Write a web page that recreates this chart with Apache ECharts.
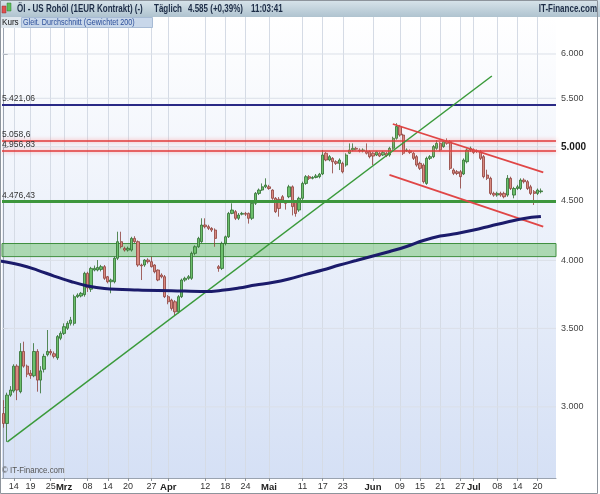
<!DOCTYPE html>
<html><head><meta charset="utf-8">
<script src="https://cdn.jsdelivr.net/npm/echarts@6/dist/echarts.min.js"></script>
<style>html,body{margin:0;padding:0;background:#fff}#c{width:600px;height:494px}</style>
</head><body><div id="c"></div>
<script>
// ---------- data ----------
const startDate = [2009, 1, 11];   // 11 Feb 2009 (first bar)
const dayCount = 165;              // categories on the axis (last bars empty)
// [open, close, low, high]
const ohlc = [
[2961,2904,2880,3040],[2904,3070,2801,3085],[3070,3101,3060,3125],[3095,3250,3085,3262],[3250,3101,3040,3262],
[3091,3345,3081,3400],[3345,3250,3240,3410],[3250,3199,3180,3260],[3205,3190,3170,3225],[3189,3345,3180,3400],
[3345,3162,3091,3360],[3162,3220,3081,3250],[3230,3313,3210,3330],[3324,3345,3313,3489],[3345,3335,3320,3360],
[3330,3313,3300,3345],[3303,3444,3290,3455],[3433,3466,3420,3480],[3466,3512,3455,3535],[3501,3535,3489,3550],
[3535,3558,3520,3580],[3535,3725,3520,3740],[3725,3737,3715,3750],[3730,3750,3720,3760],[3740,3900,3725,3912],
[3900,3790,3760,3912],[3780,3938,3760,3950],[3925,3938,3915,3960],[3925,3945,3915,4003],[3930,3951,3915,3965],
[3951,3862,3850,3964],[3874,3836,3824,3880],[3836,3849,3750,3860],[3836,4017,3824,4030],[4017,4150,4003,4232],
[4150,4110,4096,4232],[4096,4082,4070,4110],[4082,4096,4070,4110],[4082,4177,4070,4190],[4177,4150,4140,4195],
[4150,3964,3950,4160],[3964,3958,3849,3975],[3964,4003,3950,4010],[4003,3990,3975,4017],[3990,3951,3945,4030],
[3964,3912,3900,3970],[3925,3849,3840,3930],[3887,3874,3862,3900],[3874,3725,3715,3887],[3725,3688,3670,3737],
[3700,3640,3625,3710],[3688,3616,3590,3700],[3616,3725,3605,3737],[3725,3849,3715,3860],[3849,3862,3836,3874],
[3862,3874,3850,3887],[3862,4056,3850,4070],[4056,4109,4040,4120],[4109,4177,4100,4190],[4150,4288,4140,4345],
[4288,4274,4260,4345],[4274,4260,4246,4290],[4260,4246,4230,4270],[4246,4177,4109,4260],[3951,3938,3912,3964],
[3938,4136,3925,4150],[4136,4190,4120,4200],[4190,4387,4180,4400],[4387,4416,4380,4475],[4402,4345,4330,4416],
[4345,4373,4330,4390],[4380,4387,4370,4400],[4387,4380,4365,4400],[4387,4345,4300,4395],[4345,4475,4330,4490],
[4475,4563,4460,4575],[4563,4593,4548,4607],[4593,4622,4585,4653],[4622,4638,4610,4700],[4622,4607,4595,4640],
[4593,4519,4505,4600],[4519,4402,4390,4530],[4510,4430,4359,4530],[4533,4504,4490,4548],[4490,4475,4420,4504],
[4533,4622,4520,4640],[4622,4446,4370,4635],[4490,4387,4359,4504],[4416,4519,4400,4533],[4519,4653,4504,4669],
[4653,4715,4640,4730],[4715,4700,4684,4730],[4700,4708,4690,4720],[4708,4722,4700,4740],[4715,4738,4700,4750],
[4740,4920,4730,4969],[4937,4872,4860,4950],[4872,4904,4860,4920],[4888,4856,4746,4900],[4856,4840,4825,4870],
[4840,4872,4777,4888],[4840,4761,4746,4856],[4824,4920,4808,4937],[4937,4969,4930,5034],[4969,4985,4955,5034],
[4985,4977,4965,5000],[4969,4960,4945,4985],[4960,4969,4945,4985],[4953,4937,4925,5034],[4953,4904,4888,4965],
[4937,4910,4824,4950],[4920,4950,4910,4960],[4937,4910,4900,4950],[4920,4945,4910,4960],[4937,4915,4900,4950],
[4920,4985,4904,5000],[4985,5084,4970,5100],[5084,5204,5070,5237],[5204,5117,5100,5220],[5117,4937,4920,5130],
[4960,4969,4950,4985],[4960,4945,4930,4975],[4937,4888,4872,4950],[4904,4824,4808,4920],[4840,4793,4777,4856],
[4824,4669,4653,4840],[4653,4888,4640,4904],[4888,4904,4872,4920],[4904,5002,4890,5018],[4985,5034,4970,5067],
[5034,4969,4955,5050],[5002,5051,4990,5067],[5051,5034,5020,5084],[5051,4793,4777,5067],[4777,4746,4730,4793],
[4761,4745,4730,4777],[4761,4715,4607,4777],[4740,4872,4730,4888],[4856,4969,4840,4985],[4969,4985,4950,5002],
[4969,4945,4930,4985],[4960,4953,4940,4975],[4953,4888,4872,4969],[4904,4715,4700,4920],[4730,4700,4684,4780],
[4700,4563,4548,4715],[4563,4548,4533,4578],[4548,4563,4533,4578],[4563,4548,4533,4578],[4563,4533,4519,4578],
[4548,4700,4533,4730],[4700,4607,4593,4715],[4548,4607,4519,4622],[4607,4622,4593,4640],[4607,4684,4593,4700],
[4684,4669,4653,4700],[4669,4607,4593,4684],[4622,4563,4548,4640],[4578,4563,4460,4593],[4563,4593,4548,4607],
[4578,4585,4563,4607]
];
// 200-day weighted moving average (bar position, value)
const maPos = [-1.1,5,10,15,20,25,30,40,50,60,65,70,75,80,85,90,95,100,105,110,115,120,125,130,135,140,145,150,155,160];
const maVal = [3995,3964,3925,3879,3838,3804,3785,3774,3769,3763,3772,3789,3811,3830,3857,3892,3925,3964,3999,4035,4071,4111,4160,4196,4217,4246,4280,4314,4344,4360];
// drawn lines: [bar position, price]
const trendUp = [[1.1, 2801], [145.4, 5746]];
const channelTop = [[115.9, 5229], [160.7, 4756]];
const channelBottom = [[114.9, 4731], [160.7, 4274]];
const levelValues = [5421.06, 5058.6, 4956.83, 4476.43];
const levelTexts = ['5.421,06', '5.058,6', '4.956,83', '4.476,43'];
const supportZone = [4030, 4135];
const lastPrice = 4585, lastPriceText = '4.585';
const maLast = 4359.6, maLastText = '4.359,6';
const yTicks = [3000, 3500, 4000, 4500, 5000, 5500, 6000];
const yRange = [2609, 6452];
const xTickDates = ['2009-02-14','2009-02-19','2009-02-25','2009-03-01','2009-03-08','2009-03-14','2009-03-20','2009-03-27','2009-04-01','2009-04-12','2009-04-18','2009-04-24','2009-05-01','2009-05-11','2009-05-17','2009-05-23','2009-06-01','2009-06-09','2009-06-15','2009-06-21','2009-06-27','2009-07-01','2009-07-08','2009-07-14','2009-07-20'];
const xTickTexts = ['14','19','25','Mrz','08','14','20','27','Apr','12','18','24','Mai','11','17','23','Jun','09','15','21','27','Jul','08','14','20'];
const monthNames = ['Mrz','Apr','Mai','Jun','Jul'];

// ---------- build ----------
const cats = [];
for (let i = 0; i < dayCount; i++) {
  const d = new Date(Date.UTC(startDate[0], startDate[1], startDate[2] + i));
  cats.push(d.toISOString().slice(0, 10));
}
const tickMap = {};
xTickDates.forEach((d, k) => tickMap[d] = xTickTexts[k]);
const isTick = (idx, val) => tickMap[val] !== undefined;
const L = Math.log;
const de = n => String(n).replace(/\B(?=(\d{3})+(?!\d))/g, '.');
const font = '"Liberation Sans", Arial, sans-serif';

// horizontal grid lines across the plot at each price tick (broken between ticks)
const gridLineData = [];
yTicks.forEach(v => { gridLineData.push([-0.5, L(v)], [dayCount - 0.5, L(v)], ['-', '-']); });

const levelStyles = [
  {color: '#2a2a86', width: 2, type: 'solid'},
  {color: '#e03a3a', width: 1.6, type: 'solid', shadowColor: 'rgba(255,140,140,0.9)', shadowBlur: 4},
  {color: '#e03a3a', width: 1.6, type: 'solid', shadowColor: 'rgba(255,140,140,0.9)', shadowBlur: 4},
  {color: '#3d963d', width: 3, type: 'solid'}
];

const chart = echarts.init(document.getElementById('c'));
const hdrText = (txt, x, opts) => Object.assign({
  type: 'text', x: x, y: 9, scaleX: 0.8, z: 101,
  style: {text: txt, font: 'bold 10px ' + font, fill: '#1c2c46', verticalAlign: 'middle'}
}, opts || {});

chart.setOption({
  animation: false,
  backgroundColor: '#ffffff',
  textStyle: {fontFamily: font},
  grid: {left: 2, right: 44, top: 17, bottom: 16, show: true, borderWidth: 0,
    backgroundColor: {type: 'linear', x: 0, y: 0, x2: 0, y2: 1,
      colorStops: [{offset: 0, color: '#ffffff'}, {offset: 1, color: '#d5e0f5'}]}},
  xAxis: [{
    type: 'category', data: cats, boundaryGap: true,
    axisLine: {show: true, lineStyle: {color: '#9aa3b0'}},
    axisTick: {show: true, interval: isTick, alignWithLabel: true, length: 3, lineStyle: {color: '#8a929c'}},
    axisLabel: {interval: isTick, margin: 4, fontSize: 9, color: '#333',
      formatter: v => monthNames.includes(tickMap[v]) ? '{m|' + tickMap[v] + '}' : tickMap[v],
      rich: {m: {fontWeight: 'bold', fontSize: 9.5, color: '#222'}}},
    splitLine: {show: true, interval: isTick, alignWithLabel: true, lineStyle: {color: '#d5dbe5', width: 1}}
  }, {
    type: 'value', min: -0.5, max: dayCount - 0.5, show: false
  }],
  yAxis: {
    type: 'value', position: 'right', min: L(yRange[0]), max: L(yRange[1]),
    axisLine: {show: true, lineStyle: {color: '#9aa3b0'}},
    axisTick: {show: true, length: 4, customValues: yTicks.map(L), lineStyle: {color: '#8a929c'}},
    axisLabel: {customValues: yTicks.map(L), margin: 5, fontSize: 9, color: '#444',
      formatter: v => { const n = Math.round(Math.exp(v)); return n === 5000 ? '{b|' + de(n) + '}' : de(n); },
      rich: {b: {fontWeight: 'bold', fontSize: 10, color: '#1a1a1a'}}},
    splitLine: {show: false}
  },
  series: [{
    type: 'line', xAxisIndex: 1, data: gridLineData, z: 1, silent: true, symbol: 'none', connectNulls: false,
    lineStyle: {color: '#dbe0e8', width: 1}
  }, {
    type: 'candlestick', name: 'Kurs', data: ohlc.map(r => r.map(L)), barWidth: 2.8, z: 3,
    itemStyle: {color: '#6cc06c', color0: '#d98a80', borderColor: '#2f6e2f', borderColor0: '#8e3f3a', borderWidth: 0.8},
    markArea: {silent: true,
      itemStyle: {color: 'rgba(120,196,120,0.55)', borderColor: '#3f8f3f', borderWidth: 1},
      data: [[{yAxis: L(supportZone[0])}, {yAxis: L(supportZone[1])}]]},
    markLine: {silent: true, symbol: ['none', 'none'], animation: false,
      data: levelValues.map((v, k) => ({
        yAxis: L(v), lineStyle: levelStyles[k],
        label: {show: true, position: 'insideStartTop', formatter: levelTexts[k], color: '#333', fontSize: 8.5, distance: [0, 1]}
      })).concat([
        {yAxis: L(lastPrice), lineStyle: {opacity: 0},
          label: {show: true, position: 'end', formatter: lastPriceText, color: '#333', fontSize: 9,
            backgroundColor: '#f2da55', padding: [1, 2, 0, 2]}},
        {yAxis: L(maLast), lineStyle: {opacity: 0},
          label: {show: true, position: 'end', formatter: maLastText, color: '#3a5a9c', fontSize: 9,
            backgroundColor: '#ffffff', borderColor: '#7b97c8', borderWidth: 1, padding: [1, 2, 0, 2]}}
      ])}
  }, {
    type: 'line', name: 'Gleit. Durchschnitt (Gewichtet 200)', xAxisIndex: 1,
    data: maPos.map((x, k) => [x, L(maVal[k])]), smooth: 0.4, symbol: 'none', z: 6,
    lineStyle: {color: '#1b1b6b', width: 3}
  }, {
    type: 'line', xAxisIndex: 1, data: trendUp.map(p => [p[0], L(p[1])]), symbol: 'none', z: 5,
    lineStyle: {color: '#3a9a3a', width: 1.5}
  }, {
    type: 'line', xAxisIndex: 1, data: channelTop.map(p => [p[0], L(p[1])]), symbol: 'none', z: 5,
    lineStyle: {color: '#e04646', width: 1.8}
  }, {
    type: 'line', xAxisIndex: 1, data: channelBottom.map(p => [p[0], L(p[1])]), symbol: 'none', z: 5,
    lineStyle: {color: '#e04646', width: 1.8}
  }],
  graphic: [
    {type: 'rect', z: 100, shape: {x: 0, y: 0, width: 600, height: 17},
      style: {fill: new echarts.graphic.LinearGradient(0, 0, 0, 1, [{offset: 0, color: '#d8e4eb'}, {offset: 1, color: '#afc3cf'}])}},
    {type: 'rect', z: 101, shape: {x: 2, y: 6, width: 4, height: 7}, style: {fill: '#e05050', stroke: '#903030', lineWidth: 0.5}},
    {type: 'rect', z: 101, shape: {x: 7, y: 3, width: 4, height: 8}, style: {fill: '#5cc05c', stroke: '#2d7a2d', lineWidth: 0.5}},
    hdrText('Öl - US Rohöl (1EUR Kontrakt) (-)', 17),
    hdrText('Täglich', 154),
    hdrText('4.585 (+0,39%)', 188),
    hdrText('11:03:41', 251),
    hdrText('IT-Finance.com', 597, {style: {text: 'IT-Finance.com', font: 'bold 10px ' + font, fill: '#1c2c46', verticalAlign: 'middle', align: 'right'}}),
    {type: 'rect', z: 100, shape: {x: 0, y: 17, width: 21, height: 11}, style: {fill: '#dfe7ee'}},
    {type: 'rect', z: 100, shape: {x: 21.5, y: 17.5, width: 131, height: 10}, style: {fill: '#c8d7ea', stroke: '#a7bbd5', lineWidth: 1}},
    {type: 'text', z: 101, x: 2, y: 22.5, scaleX: 0.9, style: {text: 'Kurs', font: '9px ' + font, fill: '#111', verticalAlign: 'middle'}},
    {type: 'text', z: 101, x: 23, y: 22.5, scaleX: 0.8, style: {text: 'Gleit. Durchschnitt (Gewichtet 200)', font: '9px ' + font, fill: '#2c4f9a', verticalAlign: 'middle'}},
    {type: 'text', z: 101, x: 2, y: 471, scaleX: 0.88, style: {text: '© IT-Finance.com', font: '9px ' + font, fill: '#555', verticalAlign: 'middle'}},
    {type: 'rect', z: 102, shape: {x: 0.5, y: 0.5, width: 597, height: 493}, style: {fill: 'none', stroke: '#8d949c', lineWidth: 1}}
  ]
});
</script></body></html>
